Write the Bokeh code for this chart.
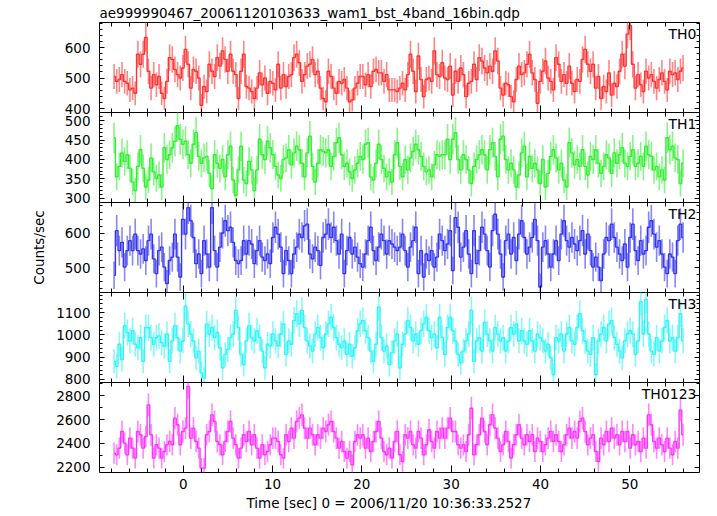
import numpy as np
from bokeh.plotting import figure
from bokeh.layouts import column
from bokeh.models import (Range1d, FixedTicker, LinearAxis, Label, Title,
                          CustomLabelingPolicy)
from bokeh.embed import file_html
from bokeh.resources import INLINE

# ---- data (count rates, counts/sec) ----
T0 = -7.889      # start time of first bin [s]
DT = 0.2963      # bin width [s]

th0 = [505,489,495,511,489,483,461,467,450,578,
       545,578,633,522,467,511,478,505,450,433,
       489,567,561,528,511,500,533,594,545,467,
       528,522,500,411,472,456,545,522,505,567,
       539,589,561,522,578,522,511,433,522,578,
       472,467,456,433,467,517,478,500,450,489,
       483,461,545,467,511,472,505,511,567,578,
       550,489,511,539,545,561,511,522,467,433,
       422,522,505,467,450,489,483,495,467,422,
       428,467,483,505,505,478,511,472,522,528,
       517,517,489,511,461,461,461,456,
       467,483,461,511,578,522,456,572,495,439,
       495,500,489,589,511,505,550,500,495,539,
       444,522,489,533,511,439,483,489,545,495,
       567,556,533,517,539,522,589,556,467,444,
       483,478,439,422,495,539,511,517,545,578,
       517,495,417,489,522,556,500,489,461,567,
       545,489,511,483,539,483,456,495,489,561,
       594,545,522,545,467,505,433,472,456,517,
       444,483,472,522,578,539,644,672,545,467,
       511,478,456,522,500,511,489,467,495,517,
       489,461,522,511,517,495,522,533]

th1 = [456,355,382,417,395,412,377,342,320,382,
       425,377,329,347,404,368,351,360,329,430,
       400,412,430,447,487,452,439,447,412,390,
       439,469,408,390,404,408,364,325,412,390,
       377,400,355,412,434,347,307,373,434,347,
       338,395,373,320,373,452,412,400,447,430,
       412,382,360,351,400,404,425,386,417,434,
       425,390,355,417,460,382,342,390,425,421,
       417,425,382,408,443,456,412,382,390,368,
       351,373,390,408,400,439,443,355,347,390,
       439,400,377,355,368,342,412,443,
       382,355,400,373,404,421,439,425,408,382,
       368,373,355,386,412,408,412,412,452,400,
       452,469,400,373,412,400,373,338,382,400,
       412,425,412,373,425,443,408,355,452,460,
       400,373,390,373,329,360,417,434,355,408,
       377,390,373,338,400,329,364,408,425,404,
       373,390,347,329,443,417,386,400,382,425,
       382,360,408,400,425,390,364,382,412,404,
       364,417,390,412,430,390,382,408,425,382,
       390,408,382,434,412,408,373,382,355,373,
       347,456,425,434,404,400,338,390]

th2 = [478,608,550,574,502,550,579,550,598,550,
       540,555,521,579,598,526,483,550,560,502,
       454,521,531,598,531,473,641,598,675,637,
       588,512,540,483,579,540,502,675,550,502,
       560,601,637,608,618,574,521,512,521,579,
       540,579,569,512,550,579,531,521,540,512,
       588,618,598,560,483,550,521,483,540,560,
       598,588,622,627,540,526,560,550,507,588,
       598,627,588,618,579,540,598,483,550,588,
       540,560,531,512,502,540,579,618,550,521,
       560,598,579,540,579,569,560,550,
       560,598,550,502,560,579,618,483,550,473,
       540,521,550,502,531,598,579,550,569,608,
       492,646,618,531,560,608,540,483,608,512,
       550,618,598,550,502,608,656,598,540,473,
       579,598,540,588,521,598,637,588,540,560,
       588,641,579,444,560,579,540,502,540,579,
       521,598,637,579,560,588,569,550,579,608,
       540,598,550,502,531,502,463,540,588,579,
       627,588,560,540,521,569,502,588,627,550,
       521,579,540,550,618,637,598,560,579,540,
       502,483,540,531,483,579,627,588]

th3 = [881,858,958,889,1042,1011,973,1019,958,942,
       988,881,1034,1034,988,958,988,996,965,950,
       1004,881,973,1042,988,927,973,1130,1050,1004,
       973,897,927,828,805,1050,1004,1034,988,1011,
       942,851,912,935,988,1004,1111,1034,912,866,
       973,1042,988,973,1019,988,927,851,958,950,
       1004,973,950,1004,1050,912,973,958,1065,1096,
       1050,1111,1034,973,950,927,1004,1034,988,942,
       1004,1050,1080,1034,988,958,942,973,912,958,
       904,942,1019,1050,1065,1019,988,927,881,958,
       1126,988,927,950,866,920,973,1004,
       851,958,1004,1065,1034,973,1004,958,1019,1050,
       1080,1019,988,1004,942,1080,988,912,1034,1080,
       1019,973,912,874,927,973,1004,1111,881,973,
       988,927,1057,1004,973,927,1034,1004,973,988,
       927,973,1034,1004,1050,973,1019,973,958,1019,
       973,927,1004,988,973,927,958,897,820,988,
       973,1004,927,1004,1034,973,958,1034,1096,1019,
       973,927,912,988,820,973,1004,1034,973,1050,
       1065,988,958,927,897,973,1004,1019,1004,912,
       973,1150,1004,1160,1004,927,912,988,927,973,
       1034,1065,973,988,927,988,1096,973]

th0123 = [2318,2304,2360,2500,2402,2304,2444,2360,2276,2500,
          2472,2360,2458,2724,2472,2276,2388,2360,2276,2332,
          2388,2416,2388,2612,2556,2388,2500,2528,2878,2444,
          2528,2416,2360,2192,2192,2472,2500,2640,2584,2416,
          2388,2304,2416,2500,2584,2444,2388,2276,2360,2472,
          2416,2500,2388,2472,2360,2276,2388,2304,2332,2388,
          2444,2444,2416,2304,2276,2472,2416,2528,2444,2584,
          2612,2640,2528,2444,2528,2472,2388,2472,2444,2528,
          2500,2556,2584,2500,2444,2360,2416,2332,2276,2332,
          2220,2416,2472,2444,2472,2360,2444,2332,2416,2500,
          2584,2444,2332,2304,2360,2276,2416,2500,
          2304,2248,2472,2444,2500,2388,2360,2500,2444,2304,
          2388,2514,2416,2360,2500,2444,2528,2444,2528,2612,
          2500,2500,2388,2360,2388,2332,2472,2696,2304,2388,
          2472,2612,2500,2388,2556,2640,2528,2444,2332,2388,
          2500,2416,2276,2388,2472,2556,2444,2388,2472,2416,
          2472,2332,2444,2416,2332,2388,2444,2500,2416,2472,
          2416,2332,2388,2472,2528,2444,2500,2444,2584,2612,
          2500,2388,2444,2472,2332,2248,2444,2388,2500,2416,
          2528,2444,2472,2388,2500,2416,2500,2360,2472,2388,
          2416,2332,2444,2360,2640,2556,2416,2360,2444,2388,
          2332,2444,2360,2304,2416,2360,2680,2472]

names = ["TH0", "TH1", "TH2", "TH3", "TH0123"]
series = [th0, th1, th2, th3, th0123]
y_limits = [(387, 682), (289, 521), (428, 690), (785, 1192), (2155, 2912)]
y_major = [[400, 500, 600], [300, 350, 400, 450, 500], [500, 600],
           [800, 900, 1000, 1100], [2200, 2400, 2600, 2800]]
y_minor_step = [20, 10, 20, 20, 100]
colors = ["#ff3333", "#33ee33", "#3535f0", "#33f5f5", "#ff33ff"]

x_major = [0, 10, 20, 30, 40, 50]
x_minor = list(range(-8, 57, 2))

title_text = "ae999990467_20061120103633_wam1_bst_4band_16bin.qdp"
xlabel_text = "Time [sec] 0 = 2006/11/20 10:36:33.2527"
ylabel_text = "Counts/sec"

FONT = "DejaVu Sans"
FS = "13.5px"
FH = 90          # frame height of each panel
OV = 7           # hidden bottom border that the next panel overlaps

xr = Range1d(-9.37, 57.8)
no_labels = CustomLabelingPolicy(code="for (const i of indices) { indices.unset(i) }\nreturn indices")


def style_axis(ax, major_in, minor_in, show_labels):
    ax.axis_line_color = None
    ax.major_tick_in = major_in
    ax.major_tick_out = 0
    ax.minor_tick_in = minor_in
    ax.minor_tick_out = 0
    ax.major_tick_line_color = "black"
    ax.minor_tick_line_color = "black"
    ax.major_tick_line_width = 1
    ax.minor_tick_line_width = 1
    if show_labels:
        ax.major_label_text_font = FONT
        ax.major_label_text_font_size = FS
        ax.major_label_text_color = "black"
    else:
        ax.major_label_text_font_size = "0px"
        ax.major_label_standoff = 0
        ax.major_label_policy = no_labels


figs = []
n = len(names)
for i in range(n):
    lo, hi = y_limits[i]
    p = figure(frame_width=600, frame_height=FH, x_range=xr,
               y_range=Range1d(lo, hi), output_backend="svg",
               toolbar_location=None, x_axis_location=None,
               y_axis_location=None, min_border_left=99,
               min_border_right=2, min_border_top=0,
               min_border_bottom=(OV if i < n - 1 else 0))
    if i > 0:
        p.margin = (-OV, 0, 0, 0)
    p.xgrid.visible = False
    p.ygrid.visible = False
    p.outline_line_color = "black"
    p.outline_line_width = 1
    p.background_fill_color = "white"
    p.border_fill_color = None

    yminor = list(range(int(np.ceil(lo / y_minor_step[i]) * y_minor_step[i]),
                        hi + 1, y_minor_step[i]))
    for side in ("below", "above"):
        ax = LinearAxis(ticker=FixedTicker(ticks=x_major, minor_ticks=x_minor))
        style_axis(ax, 7, 4, side == "below" and i == n - 1)
        if side == "below" and i == n - 1:
            ax.major_label_standoff = 6
        p.add_layout(ax, side)
    for side in ("left", "right"):
        ax = LinearAxis(ticker=FixedTicker(ticks=y_major[i], minor_ticks=yminor))
        style_axis(ax, 5, 3, side == "left")
        if side == "left":
            ax.major_label_standoff = 9
            if i == 2:
                ax.axis_label = ylabel_text
                ax.axis_label_text_font = FONT
                ax.axis_label_text_font_size = FS
                ax.axis_label_text_font_style = "normal"
                ax.axis_label_text_color = "black"
                ax.axis_label_standoff = 15
        p.add_layout(ax, side)

    y = np.array(series[i], dtype=float)
    x = T0 + DT * (np.arange(len(y)) + 0.5)
    err = np.sqrt(y / DT)
    c = colors[i]
    p.segment(x0=x, y0=y - err, x1=x, y1=y + err, line_color=c,
              line_width=1.6, line_alpha=0.6)
    p.step(x=x, y=y, mode="center", line_color=c, line_width=1.4)

    p.add_layout(Label(x=597, y=FH - 3, x_units="screen", y_units="screen",
                       text=names[i], text_align="right", text_baseline="top",
                       text_font=FONT, text_font_size="14px", text_color="black"))

    if i == 0:
        p.min_border_top = 19
        p.title.text = title_text
        p.title.align = "left"
        p.title.text_font = FONT
        p.title.text_font_size = FS
        p.title.text_font_style = "normal"
        p.title.text_color = "black"
        p.title.standoff = 4
    if i == n - 1:
        p.add_layout(Title(text=xlabel_text, align="left", offset=147,
                           text_font=FONT, text_font_size=FS,
                           text_font_style="normal", text_color="black",
                           standoff=3), "below")
    figs.append(p)

layout = column(*figs, spacing=0)
open("out.html", "w").write(file_html(layout, INLINE))
